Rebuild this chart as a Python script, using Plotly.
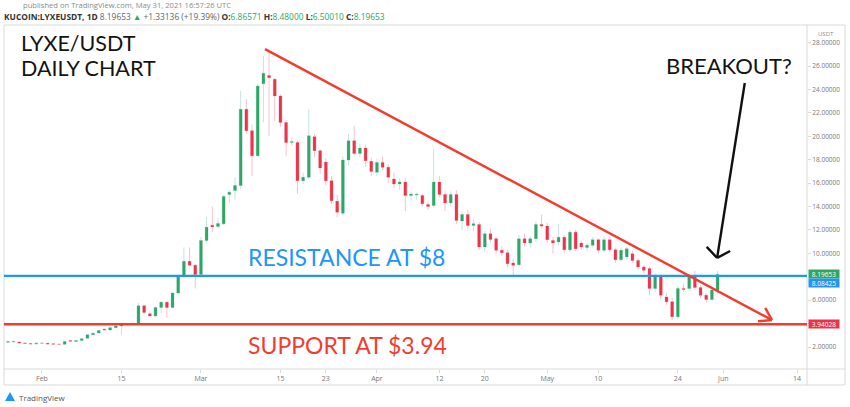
import pandas as pd
import plotly.graph_objects as go
import math

# ---------------- data ----------------
dates = pd.date_range("2021-01-26", "2021-05-31", freq="D")

open_ = [2.40, 2.42, 2.42, 2.35, 2.30, 2.25, 2.32, 2.32, 2.27, 2.25,
         2.23, 2.55, 2.48, 2.55, 2.75, 3.05, 3.20, 3.52, 3.45, 3.65,
         3.80, 3.88, 3.90, 3.96, 5.52, 4.85, 4.65, 5.38, 5.83, 5.38,
         6.62, 8.04, 9.32, 8.98, 8.19, 11.10, 12.40, 12.30, 12.53, 15.02,
         15.36, 15.79, 22.31, 20.47, 18.34, 24.50, 25.20, 24.87, 23.45, 21.18,
         19.47, 19.47, 16.20, 16.50, 19.96, 18.77, 17.80, 16.20, 14.45, 13.43,
         17.97, 19.62, 18.54, 19.00, 17.86, 16.92, 17.77, 17.35, 16.35, 15.93,
         16.10, 14.94, 14.98, 14.94, 14.17, 14.09, 16.10, 15.02, 14.31, 15.02,
         12.76, 13.32, 12.38, 12.47, 10.54, 11.67, 11.25, 10.26, 10.06, 9.18,
         9.03, 11.25, 10.88, 11.25, 12.47, 12.33, 11.10, 10.97, 11.38, 10.30,
         11.81, 10.88, 10.50, 10.70, 11.17, 10.26, 11.17, 10.31, 9.46, 9.69,
         9.97, 9.40, 8.84, 8.70, 7.00, 7.98, 6.28, 5.86, 4.58, 7.00,
         7.00, 7.98, 7.08, 6.43, 6.06, 6.86571]
high = [2.52, 2.50, 2.46, 2.40, 2.34, 2.36, 2.38, 2.35, 2.30, 2.29,
        2.52, 2.60, 2.60, 2.75, 3.10, 3.22, 3.45, 3.58, 3.70, 3.85,
        3.95, 3.98, 4.00, 5.75, 5.60, 5.05, 5.45, 5.95, 5.90, 6.70,
        8.10, 10.50, 10.50, 9.10, 11.40, 13.10, 14.00, 13.00, 15.00, 15.40,
        16.50, 23.90, 23.20, 21.00, 24.50, 26.85, 27.40, 25.00, 23.60, 21.40,
        19.90, 19.60, 16.90, 22.30, 20.20, 18.90, 18.10, 16.60, 15.00, 18.30,
        20.20, 20.90, 19.40, 19.30, 18.20, 18.10, 18.30, 17.60, 16.90, 16.40,
        16.40, 15.30, 15.20, 15.10, 14.40, 18.90, 16.60, 15.30, 15.30, 15.40,
        13.60, 13.70, 12.90, 12.70, 11.90, 12.10, 11.40, 10.60, 10.30, 9.50,
        11.60, 11.70, 11.50, 12.70, 13.30, 12.60, 11.40, 12.50, 11.60, 12.00,
        12.00, 11.10, 10.90, 11.40, 11.30, 11.40, 11.40, 10.50, 10.50, 10.60,
        10.20, 9.60, 9.00, 8.90, 8.30, 8.10, 6.60, 6.20, 7.20, 7.40,
        8.20, 8.50, 7.30, 6.60, 7.00, 8.48000]
low = [2.36, 2.38, 2.33, 2.27, 2.22, 2.22, 2.28, 2.22, 2.20, 2.19,
       2.20, 2.45, 2.44, 2.52, 2.70, 3.00, 3.15, 3.40, 3.40, 3.60,
       3.05, 3.82, 3.86, 3.94, 4.85, 4.55, 4.55, 4.90, 4.50, 5.30,
       6.50, 7.90, 8.90, 7.00, 8.10, 10.90, 11.80, 12.10, 12.40, 14.30,
       14.60, 15.50, 20.20, 16.60, 18.20, 21.20, 20.00, 21.30, 20.80, 18.30,
       19.20, 15.10, 15.90, 16.30, 18.20, 16.80, 15.80, 14.20, 13.10, 13.30,
       17.50, 18.40, 18.20, 17.40, 16.60, 16.60, 17.10, 16.00, 15.60, 15.40,
       13.60, 14.50, 14.60, 14.00, 13.70, 13.90, 14.80, 13.60, 14.00, 12.50,
       12.00, 12.10, 11.90, 10.30, 10.10, 10.90, 10.00, 9.80, 8.80, 8.13,
       8.90, 10.60, 10.50, 11.00, 12.10, 10.90, 10.00, 10.70, 10.00, 10.10,
       10.20, 10.30, 10.20, 10.50, 10.00, 10.10, 10.10, 9.20, 9.30, 9.50,
       9.20, 8.60, 8.30, 6.40, 6.70, 6.00, 5.60, 4.30, 4.40, 6.70,
       6.80, 6.90, 6.20, 5.80, 5.95, 6.50010]
close = [2.47, 2.48, 2.35, 2.30, 2.25, 2.32, 2.34, 2.26, 2.24, 2.23,
         2.48, 2.50, 2.55, 2.70, 3.05, 3.18, 3.40, 3.45, 3.65, 3.80,
         3.88, 3.92, 3.96, 5.52, 4.95, 4.65, 5.38, 5.83, 5.38, 6.62,
         8.04, 9.32, 8.98, 8.19, 11.10, 12.24, 12.26, 12.55, 14.85, 15.22,
         15.79, 22.31, 20.47, 18.34, 24.30, 25.38, 25.00, 23.45, 21.18, 19.47,
         19.55, 16.20, 16.50, 20.04, 18.77, 17.30, 16.20, 14.50, 13.52, 17.97,
         19.62, 18.54, 19.00, 17.91, 17.00, 17.77, 17.35, 16.50, 15.93, 16.10,
         14.94, 15.08, 15.05, 14.23, 14.00, 16.10, 15.02, 14.31, 15.02, 12.81,
         13.32, 12.38, 12.52, 10.54, 11.67, 11.19, 10.26, 10.06, 9.12, 8.98,
         11.25, 10.88, 11.25, 12.47, 12.33, 11.17, 10.88, 11.38, 10.30, 11.81,
         10.40, 10.54, 10.70, 11.17, 10.26, 11.17, 10.30, 9.46, 10.26, 10.40,
         9.40, 8.84, 8.55, 7.00, 7.98, 6.43, 5.86, 4.58, 7.00, 6.91,
         7.98, 7.08, 6.43, 6.06, 6.86517, 8.19653]

RESISTANCE = 8.08425
SUPPORT = 3.94028
LAST_PRICE = 8.19653

tick_dates = ["2021-02-01", "2021-02-15", "2021-03-01", "2021-03-15", "2021-03-23",
              "2021-04-01", "2021-04-12", "2021-04-20", "2021-05-01", "2021-05-10",
              "2021-05-24", "2021-06-01", "2021-06-14"]
tick_text = ["Feb", "15", "Mar", "15", "23", "Apr", "12", "20", "May", "10", "24", "Jun", "14"]
# 8.00000 is hidden behind the price labels in the original
price_ticks = [2, 4, 6, 10, 12, 14, 16, 18, 20, 22, 24, 26, 28]

# hand-drawn annotations (dates / prices)
trend_start = ("2021-03-12 07:00", 27.45)
trend_end = ("2021-06-09 14:00", 4.30)
breakout_tail = ("2021-06-04 19:00", 24.56)
breakout_tip = ("2021-05-30 22:00", 9.61)
breakout_wing_l = ("2021-05-29 02:00", 10.55)
breakout_wing_r = ("2021-06-02 05:00", 10.20)

# ---------------- layout geometry ----------------
W, H = 850, 407
L, R, T, B = 4, 43, 25, 38
PW, PH = W - L - R, H - T - B
x_range = ["2021-01-25 07:30", "2021-06-15 18:00"]
y_range = [0.12, 29.51]

GREEN = "#2ea664"
RED = "#ec3449"
BLUE = "#2196f3"
LINE_RED = "#f23d2e"
GRID = "#d9d9d9"


def px_x(px):
    return (px - L) / PW


def px_y(py):
    return (H - B - py) / PH


fig = go.Figure()
# wicks (pale)
fig.add_trace(go.Candlestick(
    x=dates, open=open_, high=high, low=low, close=close,
    increasing=dict(line=dict(color="#c5e2e3", width=1), fillcolor=GREEN),
    decreasing=dict(line=dict(color="#f6c3ca", width=1), fillcolor=RED),
    whiskerwidth=0, showlegend=False, hoverinfo="skip"))
# bodies (solid)
fig.add_trace(go.Candlestick(
    x=dates, open=open_, high=high, low=low, close=close,
    increasing=dict(line=dict(color=GREEN, width=0), fillcolor=GREEN),
    decreasing=dict(line=dict(color=RED, width=0), fillcolor=RED),
    whiskerwidth=0, showlegend=False, hoverinfo="skip"))

shapes = []
# frame
shapes.append(dict(type="rect", xref="paper", yref="paper", x0=0, x1=px_x(845),
                   y0=px_y(385), y1=1, line=dict(color=GRID, width=1)))
shapes.append(dict(type="line", xref="paper", yref="paper", x0=1, x1=1,
                   y0=px_y(385), y1=1, line=dict(color=GRID, width=1)))
shapes.append(dict(type="line", xref="paper", yref="paper", x0=0, x1=px_x(845),
                   y0=0, y1=0, line=dict(color=GRID, width=1)))
# resistance / support
shapes.append(dict(type="line", xref="paper", yref="y", x0=0, x1=1,
                   y0=RESISTANCE, y1=RESISTANCE, line=dict(color=BLUE, width=2.2)))
shapes.append(dict(type="line", xref="paper", yref="y", x0=0, x1=1,
                   y0=SUPPORT, y1=SUPPORT, line=dict(color=LINE_RED, width=2.6)))
# trend line
shapes.append(dict(type="line", xref="x", yref="y", x0=trend_start[0], y0=trend_start[1],
                   x1=trend_end[0], y1=trend_end[1], line=dict(color=LINE_RED, width=2.4)))

# arrow head of the trend line (computed in pixel space)
px_day = PW / ((pd.Timestamp(x_range[1]) - pd.Timestamp(x_range[0])).total_seconds() / 86400)
px_unit = PH / (y_range[1] - y_range[0])
t0 = pd.Timestamp(trend_start[0]); t1 = pd.Timestamp(trend_end[0])
dxp = (t1 - t0).total_seconds() / 86400 * px_day
dyp = -(trend_end[1] - trend_start[1]) * px_unit
ang = math.atan2(dyp, dxp)
for s in (1, -1):
    a = ang + math.pi + s * math.radians(33)
    ex, ey = 14 * math.cos(a), 14 * math.sin(a)
    shapes.append(dict(type="line", xref="x", yref="y",
                       x0=t1 + pd.Timedelta(days=ex / px_day), y0=trend_end[1] - ey / px_unit,
                       x1=trend_end[0], y1=trend_end[1],
                       line=dict(color=LINE_RED, width=2.4)))

# breakout arrow
for a, b in ((breakout_tail, breakout_tip), (breakout_wing_l, breakout_tip), (breakout_wing_r, breakout_tip)):
    shapes.append(dict(type="line", xref="x", yref="y", x0=a[0], y0=a[1], x1=b[0], y1=b[1],
                       line=dict(color="#111111", width=2.4)))

# tradingview logo mark
shapes.append(dict(type="path", xref="paper", yref="paper",
                   path=f"M {px_x(5)} {px_y(401)} L {px_x(10)} {px_y(392)} L {px_x(15)} {px_y(401)} Z",
                   fillcolor=BLUE, line=dict(width=0)))

ann = []
BIG = "Lato, 'Open Sans', sans-serif"
ann.append(dict(text="LYXE/USDT", x=px_x(19), y=px_y(43.5), xref="paper", yref="paper",
                xanchor="left", yanchor="middle", showarrow=False,
                font=dict(family=BIG, size=21.5, color="#131313")))
ann.append(dict(text="DAILY CHART", x=px_x(19), y=px_y(67.5), xref="paper", yref="paper",
                xanchor="left", yanchor="middle", showarrow=False,
                font=dict(family=BIG, size=21.5, color="#131313")))
ann.append(dict(text="BREAKOUT?", x=px_x(664), y=px_y(65), xref="paper", yref="paper",
                xanchor="left", yanchor="middle", showarrow=False,
                font=dict(family=BIG, size=22, color="#131313")))
ann.append(dict(text="RESISTANCE AT $8", x=px_x(246), y=px_y(257), xref="paper", yref="paper",
                xanchor="left", yanchor="middle", showarrow=False,
                font=dict(family=BIG, size=23, color=BLUE)))
ann.append(dict(text="SUPPORT AT $3.94", x=px_x(246), y=px_y(345), xref="paper", yref="paper",
                xanchor="left", yanchor="middle", showarrow=False,
                font=dict(family=BIG, size=23, color=LINE_RED)))

# header
SMALL = "'Open Sans', Lato, sans-serif"
ann.append(dict(text="published on TradingView.com, May 31, 2021 16:57:26 UTC",
                x=px_x(127), y=px_y(5), xref="paper", yref="paper", xanchor="center",
                yanchor="middle", showarrow=False, font=dict(family=SMALL, size=7.6, color="#8a8a8a")))
g = "#2ea664"
hdr = ("<b>KUCOIN:LYXEUSDT, 1D</b> <span style='color:#666'>8.19653</span> "
       f"<span style='color:{g}'>▲</span> <span style='color:#666'>+1.33136 (+19.39%)</span> "
       f"<b>O:</b><span style='color:{g}'>6.86571</span> <b>H:</b><span style='color:{g}'>8.48000</span> "
       f"<b>L:</b><span style='color:{g}'>6.50010</span> <b>C:</b><span style='color:{g}'>8.19653</span>")
ann.append(dict(text=hdr, x=px_x(2), y=px_y(16.5), xref="paper", yref="paper", xanchor="left",
                yanchor="middle", showarrow=False, font=dict(family=SMALL, size=8.4, color="#333")))

# price-axis labels
for val, col, shift in ((LAST_PRICE, GREEN, 0), (RESISTANCE, BLUE, -7.5), (SUPPORT, RED, 0)):
    ann.append(dict(text=f"{val:.5f}", x=1, y=val, xref="paper", yref="y", xanchor="left",
                    yanchor="middle", xshift=1, yshift=shift, showarrow=False, bgcolor=col,
                    width=30, height=8, borderpad=0,
                    font=dict(family=SMALL, size=6.5, color="white")))
ann.append(dict(text="USDT", x=px_x(826), y=px_y(34), xref="paper", yref="paper",
                xanchor="center", yanchor="middle", showarrow=False,
                font=dict(family=SMALL, size=6, color="#8a8a8a")))
ann.append(dict(text="TradingView", x=px_x(17), y=px_y(397), xref="paper", yref="paper",
                xanchor="left", yanchor="middle", showarrow=False,
                font=dict(family=SMALL, size=8, color="#555")))

fig.update_layout(
    width=W, height=H, margin=dict(l=L, r=R, t=T, b=B),
    paper_bgcolor="white", plot_bgcolor="white",
    shapes=shapes, annotations=ann, showlegend=False,
    xaxis=dict(type="date", range=x_range, rangeslider=dict(visible=False),
               tickvals=tick_dates, ticktext=tick_text, showgrid=False, zeroline=False,
               ticks="outside", ticklen=3, tickcolor=GRID,
               tickfont=dict(family=SMALL, size=7, color="#777")),
    yaxis=dict(side="right", range=y_range, tickvals=price_ticks, tickformat=".5f",
               showgrid=False, zeroline=False, ticks="outside", ticklen=3, tickcolor=GRID,
               tickfont=dict(family=SMALL, size=6.5, color="#777")),
)

fig.write_html("out.html", config={"displayModeBar": False},
               post_script="document.body.style.margin='0';document.body.style.overflow='hidden';")
